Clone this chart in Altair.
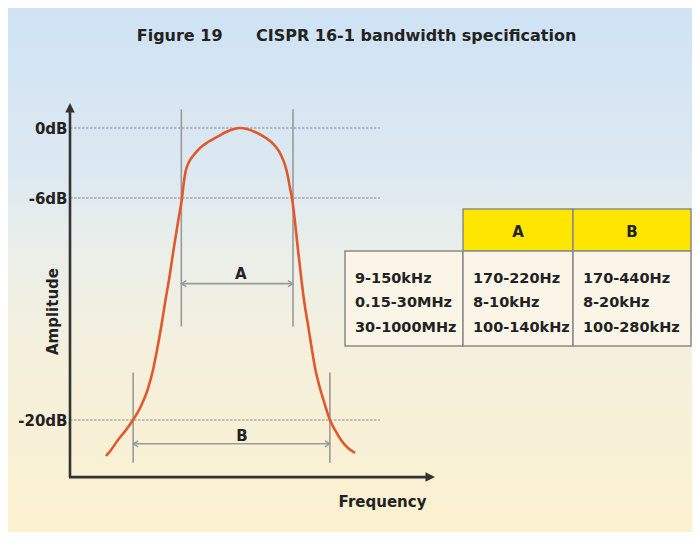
import altair as alt
import pandas as pd

# ---------------- data ----------------
# filter response curve: relative frequency (x-axis spans 0..100) and amplitude in dB
curve_f = [9.86, 11.23, 13.15, 15.34, 17.26, 19.59, 21.23, 22.74, 23.84, 25.07,
           26.16, 27.12, 28.36, 29.59, 30.68, 31.10, 31.64, 32.60, 33.70, 35.62,
           37.81, 40.27, 42.74, 44.93, 46.58, 48.49, 50.68, 52.88, 54.79, 56.44,
           57.81, 58.90, 59.73, 60.27, 60.82, 61.64, 62.47, 63.42, 64.11, 65.21,
           66.30, 67.26, 68.63, 69.86, 71.23, 72.60, 74.25, 76.16, 78.08]
curve_db = [-22.27, -21.89, -21.26, -20.63, -20.0, -19.05, -18.11, -16.85, -15.59, -14.01,
            -12.43, -11.17, -9.28, -7.51, -6.0, -4.89, -3.77, -2.91, -2.40, -1.71,
            -1.20, -0.77, -0.34, -0.09, 0.0, -0.09, -0.34, -0.69, -1.11, -1.63,
            -2.31, -3.17, -4.20, -5.14, -6.0, -7.51, -9.28, -11.17, -12.43, -14.01,
            -15.59, -16.85, -18.11, -19.05, -20.0, -20.63, -21.26, -21.77, -22.08]

level_db = [0, -6, -20]          # reference levels
level_end_f = 84.9               # dashed reference lines end

band_names = ["A", "B"]
band_lo = [30.5, 17.3]           # lower edge (f)
band_hi = [61.1, 71.2]           # upper edge (f)
band_top = [1.6, -17.0]          # marker line top (dB)
band_bottom = [-14.1, -22.7]     # marker line bottom (dB)
band_arrow_db = [-11.4, -21.5]   # level of the double arrow
band_label_f = [46.8, 47.1]
band_label_db = [-10.8, -21.0]

axis_origin_db = -23.6
axis_top_db = 1.5
axis_tip_db = 2.14
axis_end_f = 98.0
axis_tip_f = 100.0

freq_ranges = ["9-150kHz", "0.15-30MHz", "30-1000MHz"]
bw_A = ["170-220Hz", "8-10kHz", "100-140kHz"]
bw_B = ["170-440Hz", "8-20kHz", "100-280kHz"]
table_headers = ["", "A", "B"]

# ---------------- styling ----------------
FONT = "DejaVu Sans"
TXT = "#222222"
GRAY = "#9a9a9a"
AXC = "#333333"

W, H = 684, 524

XS = alt.Scale(domain=[0, 100], range=[62, 427], nice=False, zero=False)
YS = alt.Scale(domain=[-20, -6, 0], range=[412, 190, 120], nice=False, zero=False)

XAX = alt.Axis(labels=False, ticks=False, domain=False, grid=False, zindex=1,
               title="Frequency", offset=-(H - 469), titleX=374, titleY=29,
               titleBaseline="alphabetic", titleFont=FONT, titleFontSize=15,
               titleFontWeight="bold", titleColor=TXT)
YAX = alt.Axis(values=level_db, labelExpr="datum.value + 'dB'", ticks=False, tickSize=0,
               domain=False, grid=False, offset=-62, labelPadding=3, zindex=1,
               labelFont=FONT, labelFontSize=15, labelFontWeight="bold", labelColor=TXT,
               title="Amplitude", titleX=-13, titleY=303, titleBaseline="alphabetic",
               titleFont=FONT, titleFontSize=15, titleFontWeight="bold", titleColor=TXT)


def X(f):
    return alt.X(f, type="quantitative", scale=XS, axis=XAX)


def Y(f):
    return alt.Y(f, type="quantitative", scale=YS, axis=YAX)


bg = alt.LinearGradient(
    gradient="linear", x1=0, x2=0, y1=0, y2=1,
    stops=[
        alt.GradientStop(offset=0.0, color="#CFE3F5"),
        alt.GradientStop(offset=0.32, color="#DDE9F1"),
        alt.GradientStop(offset=0.48, color="#EBEFE8"),
        alt.GradientStop(offset=0.66, color="#F5F0DC"),
        alt.GradientStop(offset=1.0, color="#FBF1CF"),
    ],
)
background = alt.Chart(pd.DataFrame({"k": [0]})).mark_rect(fill=bg, strokeWidth=0).encode(
    x=alt.value(0), x2=alt.value("width"), y=alt.value(0), y2=alt.value("height"))

# ---------------- main plot layers ----------------
grid_df = pd.DataFrame({"f": [0] * len(level_db), "f2": [level_end_f] * len(level_db), "db": level_db})
grid = alt.Chart(grid_df).mark_rule(color="#8a8a8a", strokeWidth=1.2, strokeDash=[2.5, 1.5]).encode(
    x=X("f"), x2="f2", y=Y("db"))

vl_df = pd.DataFrame({
    "f": band_lo + band_hi,
    "top": band_top + band_top,
    "bottom": band_bottom + band_bottom,
})
vlines = alt.Chart(vl_df).mark_rule(color=GRAY, strokeWidth=1.6).encode(
    x=X("f"), y=Y("top"), y2="bottom")

arr_df = pd.DataFrame({"f": band_lo, "f2": band_hi, "db": band_arrow_db})
arrows = alt.Chart(arr_df).mark_rule(color=GRAY, strokeWidth=1.6).encode(
    x=X("f"), x2="f2", y=Y("db"))

LEFT_HEAD = "M1,-0.6L0,0L1,0.6"
RIGHT_HEAD = "M-1,-0.6L0,0L-1,0.6"
head_df = pd.DataFrame({
    "f": band_lo + band_hi,
    "db": band_arrow_db + band_arrow_db,
    "shape": [LEFT_HEAD] * len(band_lo) + [RIGHT_HEAD] * len(band_hi),
})
heads = alt.Chart(head_df).mark_point(color=GRAY, strokeWidth=1.4, size=100, opacity=1).encode(
    x=X("f"), y=Y("db"), shape=alt.Shape("shape:N", scale=None))

curve_df = pd.DataFrame({"f": curve_f, "db": curve_db})
curve = alt.Chart(curve_df).mark_line(color="#E2582B", strokeWidth=2.6, interpolate="monotone").encode(
    x=X("f"), y=Y("db"))

axis_df = pd.DataFrame({
    "f": [-0.3, 0.0],
    "f2": [axis_end_f, 0.0],
    "db": [axis_origin_db, axis_origin_db],
    "db2": [axis_origin_db, axis_top_db],
})
axes_lines = alt.Chart(axis_df).mark_rule(color=AXC, strokeWidth=2.6).encode(
    x=X("f"), x2="f2", y=Y("db"), y2="db2")

UP_TIP = "M0,0L0.95,1.9L-0.95,1.9Z"
RIGHT_TIP = "M0,0L-1.9,-0.95L-1.9,0.95Z"
tip_df = pd.DataFrame({
    "f": [0.0, axis_tip_f],
    "db": [axis_tip_db, axis_origin_db],
    "shape": [UP_TIP, RIGHT_TIP],
})
tips = alt.Chart(tip_df).mark_point(filled=True, color=AXC, size=100, opacity=1, strokeWidth=0).encode(
    x=X("f"), y=Y("db"), shape=alt.Shape("shape:N", scale=None))

lab_df = pd.DataFrame({"f": band_label_f, "db": band_label_db, "t": band_names})
band_labels = alt.Chart(lab_df).mark_text(font=FONT, fontSize=15, fontWeight="bold", color=TXT,
                                          baseline="middle", align="center").encode(
    x=X("f"), y=Y("db"), text="t:N")

main = alt.layer(background, grid, vlines, arrows, heads, curve, axes_lines, tips, band_labels)

# ---------------- table ----------------
TXS = alt.Scale(domain=[0, 1, 2, 3], range=[337, 455, 565, 683], nice=False, zero=False)
TYS = alt.Scale(domain=[0, 1, 2], range=[201, 243, 338], nice=False, zero=False)


def TX(f):
    return alt.X(f, type="quantitative", scale=TXS, axis=None)


def TY(f):
    return alt.Y(f, type="quantitative", scale=TYS, axis=None)


cells = []
for i, h in enumerate(table_headers):
    if h:
        cells.append({"c0": i, "c1": i + 1, "r0": 0, "r1": 1, "fill": "#FFE600"})
for i in range(len(table_headers)):
    cells.append({"c0": i, "c1": i + 1, "r0": 1, "r1": 2, "fill": "#FAF5E6"})
cells_df = pd.DataFrame(cells)
cell_marks = alt.Chart(cells_df).mark_rect(stroke="#8a8a8a", strokeWidth=1.5).encode(
    x=TX("c0"), x2="c1", y=TY("r0"), y2="r1", fill=alt.Fill("fill:N", scale=None))

body_df = pd.DataFrame({
    "c": [0, 1, 2],
    "r": [1.5, 1.5, 1.5],
    "t": ["\n".join(freq_ranges), "\n".join(bw_A), "\n".join(bw_B)],
})
body = alt.Chart(body_df).mark_text(font=FONT, fontSize=14.5, fontWeight="bold", color=TXT,
                                    align="left", baseline="middle", dx=10, dy=-20,
                                    lineBreak="\n", lineHeight=24.5).encode(
    x=TX("c"), y=TY("r"), text="t:N")

head_txt_df = pd.DataFrame({
    "c": [i + 0.5 for i, h in enumerate(table_headers) if h],
    "r": [0.5 for h in table_headers if h],
    "t": [h for h in table_headers if h],
})
header = alt.Chart(head_txt_df).mark_text(font=FONT, fontSize=15, fontWeight="bold", color=TXT,
                                          align="center", baseline="middle", dy=2).encode(
    x=TX("c"), y=TY("r"), text="t:N")

table = alt.layer(cell_marks, body, header)

# ---------------- compose ----------------
chart = alt.layer(main, table).resolve_scale(x="independent", y="independent").properties(
    width=W, height=H, padding=0,
    autosize=alt.AutoSizeParams(type="none"),
    title=alt.TitleParams(
        text="Figure 19\u00a0\u00a0\u00a0\u00a0\u00a0\u00a0CISPR 16-1 bandwidth specification",
        font=FONT, fontSize=16, fontWeight="bold", color=TXT,
        anchor="middle", offset=-49, baseline="alphabetic", dx=6.5),
).configure_view(strokeWidth=0)

chart.save("out.html", embed_options={"renderer": "svg", "actions": False})
